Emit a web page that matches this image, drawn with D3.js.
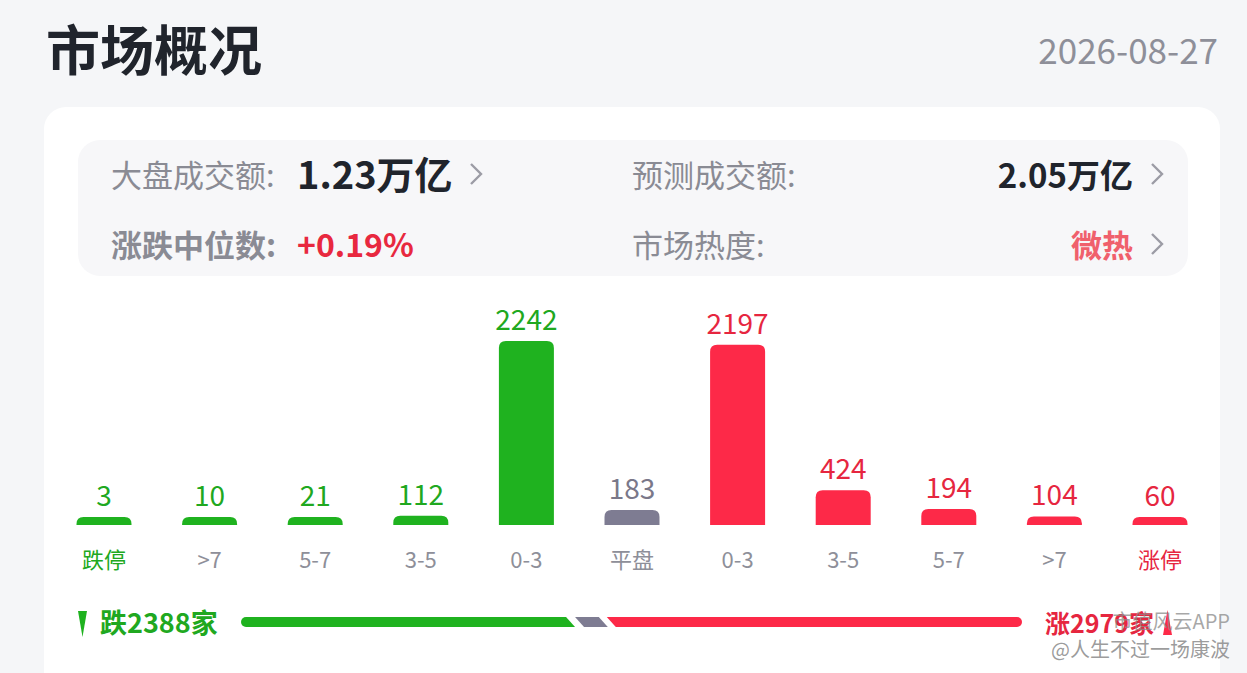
<!DOCTYPE html>
<html>
<head>
<meta charset="utf-8">
<script src="https://cdn.jsdelivr.net/npm/d3@7"></script>
<style>
  html, body { margin: 0; padding: 0; background: #f5f6f8; }
  svg { display: block; font-family: "Noto Sans CJK SC", "Noto Sans", sans-serif; }
</style>
</head>
<body>
<svg id="chart" width="1247" height="673"></svg>
<script>
// bucket labels, left (down) to right (up)
const categories = ["跌停", ">7", "5-7", "3-5", "0-3", "平盘", "0-3", "3-5", "5-7", ">7", "涨停"]
const counts = [3, 10, 21, 112, 2242, 183, 2197, 424, 194, 104, 60]
const groups = ["down", "down", "down", "down", "down", "flat", "up", "up", "up", "up", "up"]

const title = "市场概况"
const dateText = "2026-08-27"
const infoLabels = ["大盘成交额:", "预测成交额:", "涨跌中位数:", "市场热度:"]
const infoValues = ["1.23万亿", "2.05万亿", "+0.19%", "微热"]

const colors = { down: "#1fb21f", flat: "#7e7c92", up: "#fd2948" }
const textColors = { down: "#20a820", flat: "#7a7889", up: "#e6263f" }

const svg = d3.select("#chart")

// page header
svg.append("text")
    .attr("x", 46).attr("y", 71)
    .attr("font-size", 54).attr("font-weight", 700)
    .attr("fill", "#20242c")
    .text(title)

svg.append("text")
    .attr("x", 1218).attr("y", 64)
    .attr("text-anchor", "end")
    .attr("font-size", 35)
    .attr("fill", "#8e8f99")
    .text(dateText)

// white card
svg.append("rect")
    .attr("x", 44).attr("y", 107)
    .attr("width", 1176).attr("height", 620)
    .attr("rx", 22)
    .attr("fill", "#ffffff")

// info panel
svg.append("rect")
    .attr("x", 78).attr("y", 140)
    .attr("width", 1110).attr("height", 136)
    .attr("rx", 22)
    .attr("fill", "#f7f7f9")

function chevron(x, y) {
  svg.append("path")
      .attr("d", `M${x},${y - 10}L${x + 10},${y}L${x},${y + 10}`)
      .attr("fill", "none")
      .attr("stroke", "#9c9ca5")
      .attr("stroke-width", 2.4)
}

// row 1
svg.append("text").attr("x", 111).attr("y", 187)
    .attr("font-size", 31).attr("fill", "#8a8b94")
    .text(infoLabels[0])
svg.append("text").attr("x", 297).attr("y", 189)
    .attr("font-size", 38).attr("font-weight", 700).attr("fill", "#20242c")
    .text(infoValues[0])
chevron(471, 174)

svg.append("text").attr("x", 632).attr("y", 187)
    .attr("font-size", 31).attr("fill", "#8a8b94")
    .text(infoLabels[1])
svg.append("text").attr("x", 1133).attr("y", 188)
    .attr("text-anchor", "end")
    .attr("font-size", 33).attr("font-weight", 700).attr("fill", "#20242c")
    .text(infoValues[1])
chevron(1152, 174)

// row 2
svg.append("text").attr("x", 111).attr("y", 257)
    .attr("font-size", 31).attr("font-weight", 700).attr("fill", "#8a8b94")
    .text(infoLabels[2])
svg.append("text").attr("x", 297).attr("y", 257)
    .attr("font-size", 32).attr("font-weight", 700).attr("fill", "#e8283f")
    .text(infoValues[2])

svg.append("text").attr("x", 632).attr("y", 257)
    .attr("font-size", 31).attr("fill", "#8a8b94")
    .text(infoLabels[3])
svg.append("text").attr("x", 1133).attr("y", 257)
    .attr("text-anchor", "end")
    .attr("font-size", 31).attr("font-weight", 700).attr("fill", "#f0606c")
    .text(infoValues[3])
chevron(1152, 244)

// bar chart
const idx = d3.range(categories.length)
const x = d3.scalePoint(idx, [104, 1160])
const y = d3.scaleLinear([0, d3.max(counts)], [525, 341])
const barWidth = 55
const minHeight = 8

function topRounded(x0, y0, w, h, r) {
  r = Math.min(r, h, w / 2)
  return `M${x0},${y0 + h}V${y0 + r}Q${x0},${y0} ${x0 + r},${y0}H${x0 + w - r}Q${x0 + w},${y0} ${x0 + w},${y0 + r}V${y0 + h}Z`
}

const barTop = i => Math.min(y(counts[i]), y(0) - minHeight)

svg.append("g")
    .selectAll("path")
    .data(idx)
    .join("path")
    .attr("d", i => topRounded(x(i) - barWidth / 2, barTop(i), barWidth, y(0) - barTop(i), 7))
    .attr("fill", i => colors[groups[i]])

svg.append("g")
    .selectAll("text")
    .data(idx)
    .join("text")
    .attr("x", i => x(i))
    .attr("y", i => barTop(i) - 11)
    .attr("text-anchor", "middle")
    .attr("font-size", 28)
    .attr("fill", i => textColors[groups[i]])
    .text(i => counts[i])

svg.append("g")
    .selectAll("text")
    .data(idx)
    .join("text")
    .attr("x", i => x(i))
    .attr("y", 568)
    .attr("text-anchor", "middle")
    .attr("font-size", 22)
    .attr("fill", (d, i) => i === 0 ? textColors.down : i === categories.length - 1 ? textColors.up : "#8e8f99")
    .text(i => categories[i])

// summary bar
const downTotal = d3.sum(counts.filter((c, i) => groups[i] === "down"))
const flatTotal = d3.sum(counts.filter((c, i) => groups[i] === "flat"))
const upTotal = d3.sum(counts.filter((c, i) => groups[i] === "up"))
const s = d3.scaleLinear([0, downTotal + flatTotal + upTotal], [241, 1022])
const b1 = s(downTotal), b2 = s(downTotal + flatTotal)
const t = 617, bH = 10, slant = 9

svg.append("path")
    .attr("d", `M${246},${t}H${b1 - 11}L${b1 - 2},${t + bH}H${246}A5,5 0 0 1 ${246},${t}Z`)
    .attr("fill", colors.down)
svg.append("path")
    .attr("d", `M${b1 - 2},${t}H${b2 - 4}L${b2 - 4 + slant},${t + bH}H${b1 - 2 + slant}Z`)
    .attr("fill", colors.flat)
svg.append("path")
    .attr("d", `M${b2 + 4},${t}H${1017}A5,5 0 0 1 ${1017},${t + bH}H${b2 + 4 + slant}Z`)
    .attr("fill", colors.up)

svg.append("path")
    .attr("d", "M78,611L87,611L82.5,637Z")
    .attr("fill", colors.down)
svg.append("text").attr("x", 100).attr("y", 633)
    .attr("font-size", 27).attr("font-weight", 700).attr("fill", textColors.down)
    .text(`跌${downTotal}家`)

svg.append("text").attr("x", 1045).attr("y", 633)
    .attr("font-size", 25).attr("font-weight", 700).attr("fill", textColors.up)
    .text(`涨${upTotal}家`)
svg.append("path")
    .attr("d", "M1163,635L1172,635L1167.5,610Z")
    .attr("fill", colors.up)

// watermark
svg.append("text").attr("x", 1230).attr("y", 629)
    .attr("text-anchor", "end")
    .attr("font-size", 20).attr("fill", "#8a8a8a").attr("fill-opacity", 0.75)
    .text("市值风云APP")
svg.append("text").attr("x", 1230).attr("y", 657)
    .attr("text-anchor", "end")
    .attr("font-size", 20).attr("fill", "#8a8a8a").attr("fill-opacity", 0.85)
    .text("@人生不过一场康波")
</script>
</body>
</html>
